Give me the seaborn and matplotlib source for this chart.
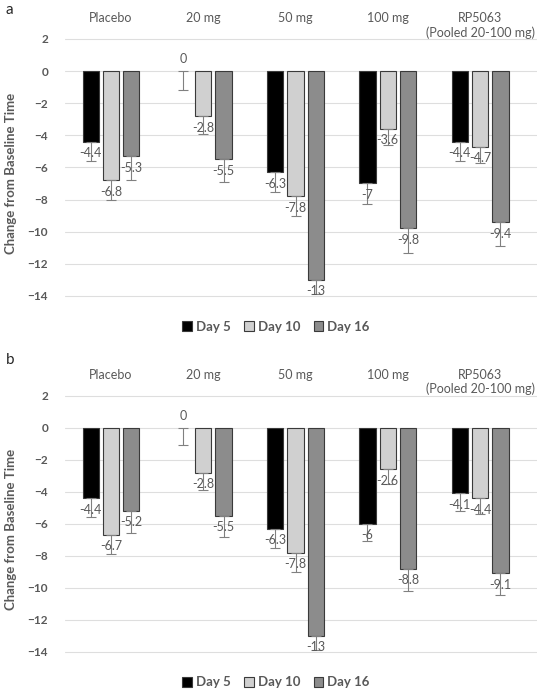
import pandas as pd
import seaborn as sns
import matplotlib.pyplot as plt
from matplotlib.patches import Patch

# categories and series
groups = ["Placebo", "20 mg", "50 mg", "100 mg", "RP5063\n(Pooled 20-100 mg)"]
days = ["Day 5", "Day 10", "Day 16"]

# panel a
a_day5 = [-4.4, 0, -6.3, -7, -4.4]
a_day10 = [-6.8, -2.8, -7.8, -3.6, -4.7]
a_day16 = [-5.3, -5.5, -13, -9.8, -9.4]
a_err5 = [1.2, 1.2, 1.2, 1.3, 1.2]
a_err10 = [1.2, 1.1, 1.2, 1.0, 1.0]
a_err16 = [1.5, 1.4, 0.9, 1.5, 1.5]

# panel b
b_day5 = [-4.4, 0, -6.3, -6, -4.1]
b_day10 = [-6.7, -2.8, -7.8, -2.6, -4.4]
b_day16 = [-5.2, -5.5, -13, -8.8, -9.1]
b_err5 = [1.2, 1.1, 1.2, 1.1, 1.1]
b_err10 = [1.2, 1.1, 1.2, 0.9, 1.0]
b_err16 = [1.4, 1.35, 0.9, 1.4, 1.35]

colors = ["#000000", "#d0d0d0", "#8c8c8c"]
grey_txt = "#595959"

sns.set_style("white")
plt.rcParams["font.family"] = ["Lato", "DejaVu Sans"]


def make_df(d5, d10, d16):
    rows = []
    for day, vals in zip(days, [d5, d10, d16]):
        for g, v in zip(groups, vals):
            rows.append({"group": g, "day": day, "value": v})
    return pd.DataFrame(rows)


def draw_panel(ax, df, errs):
    sns.barplot(data=df, x="group", y="value", hue="day", order=groups,
                hue_order=days, palette=colors, width=0.66, gap=0.2,
                errorbar=None, edgecolor="#3a3a3a", linewidth=0.8,
                legend=False, ax=ax, zorder=2)
    for cont, err in zip(ax.containers, errs):
        xs = [p.get_x() + p.get_width() / 2 for p in cont.patches]
        ys = list(cont.datavalues)
        # no outline for empty bars
        for p, v in zip(cont.patches, ys):
            if v == 0:
                p.set_linewidth(0)
        ax.errorbar(xs, ys, yerr=[err, [0] * len(err)], fmt="none",
                    ecolor="#808080", elinewidth=0.8, capsize=3.5,
                    capthick=0.8, zorder=3)
        ax.bar_label(cont, fmt="{:g}", padding=4, fontsize=9,
                     color=grey_txt, zorder=4)
    ax.set_ylim(-15, 2.3)
    ax.set_xlim(-0.5, 4.62)
    ax.set_yticks(range(-14, 3, 2))
    ax.yaxis.grid(True, color="#dedede", linewidth=0.8, zorder=0)
    ax.set_axisbelow(True)
    for s in ax.spines.values():
        s.set_visible(False)
    ax.xaxis.tick_top()
    ax.tick_params(axis="x", length=0, pad=16, labelsize=9,
                   labelcolor=grey_txt)
    for lab in ax.get_xticklabels():
        lab.set_va("top")
    ax.tick_params(axis="y", length=0, pad=12, labelsize=8.5,
                   labelcolor=grey_txt)
    for lab in ax.get_yticklabels():
        lab.set_fontweight("bold")
    ax.set_xlabel("")
    ax.set_ylabel("Change from Baseline Time", fontsize=9.5,
                  fontweight="bold", color=grey_txt, labelpad=8)
    handles = [Patch(facecolor=c, edgecolor="#3a3a3a", linewidth=0.8)
               for c in colors]
    leg = ax.legend(handles, days, loc="center", bbox_to_anchor=(0.447, -0.053),
                    ncol=3, frameon=False, handlelength=0.75, handleheight=0.75,
                    handletextpad=0.3, columnspacing=1.0,
                    prop={"weight": "bold", "size": 9.5})
    for t in leg.get_texts():
        t.set_color(grey_txt)


fig = plt.figure(figsize=(5.4, 6.93), dpi=100)
ax_a = fig.add_axes([0.12, 0.5498, 0.875, 0.401])
ax_b = fig.add_axes([0.12, 0.0365, 0.875, 0.3994])

draw_panel(ax_a, make_df(a_day5, a_day10, a_day16), [a_err5, a_err10, a_err16])
draw_panel(ax_b, make_df(b_day5, b_day10, b_day16), [b_err5, b_err10, b_err16])

fig.text(0.01, 0.985, "a", fontsize=11, va="center", ha="left")
fig.text(0.01, 0.48, "b", fontsize=11, va="center", ha="left")

plt.savefig("out.png", dpi=100)
